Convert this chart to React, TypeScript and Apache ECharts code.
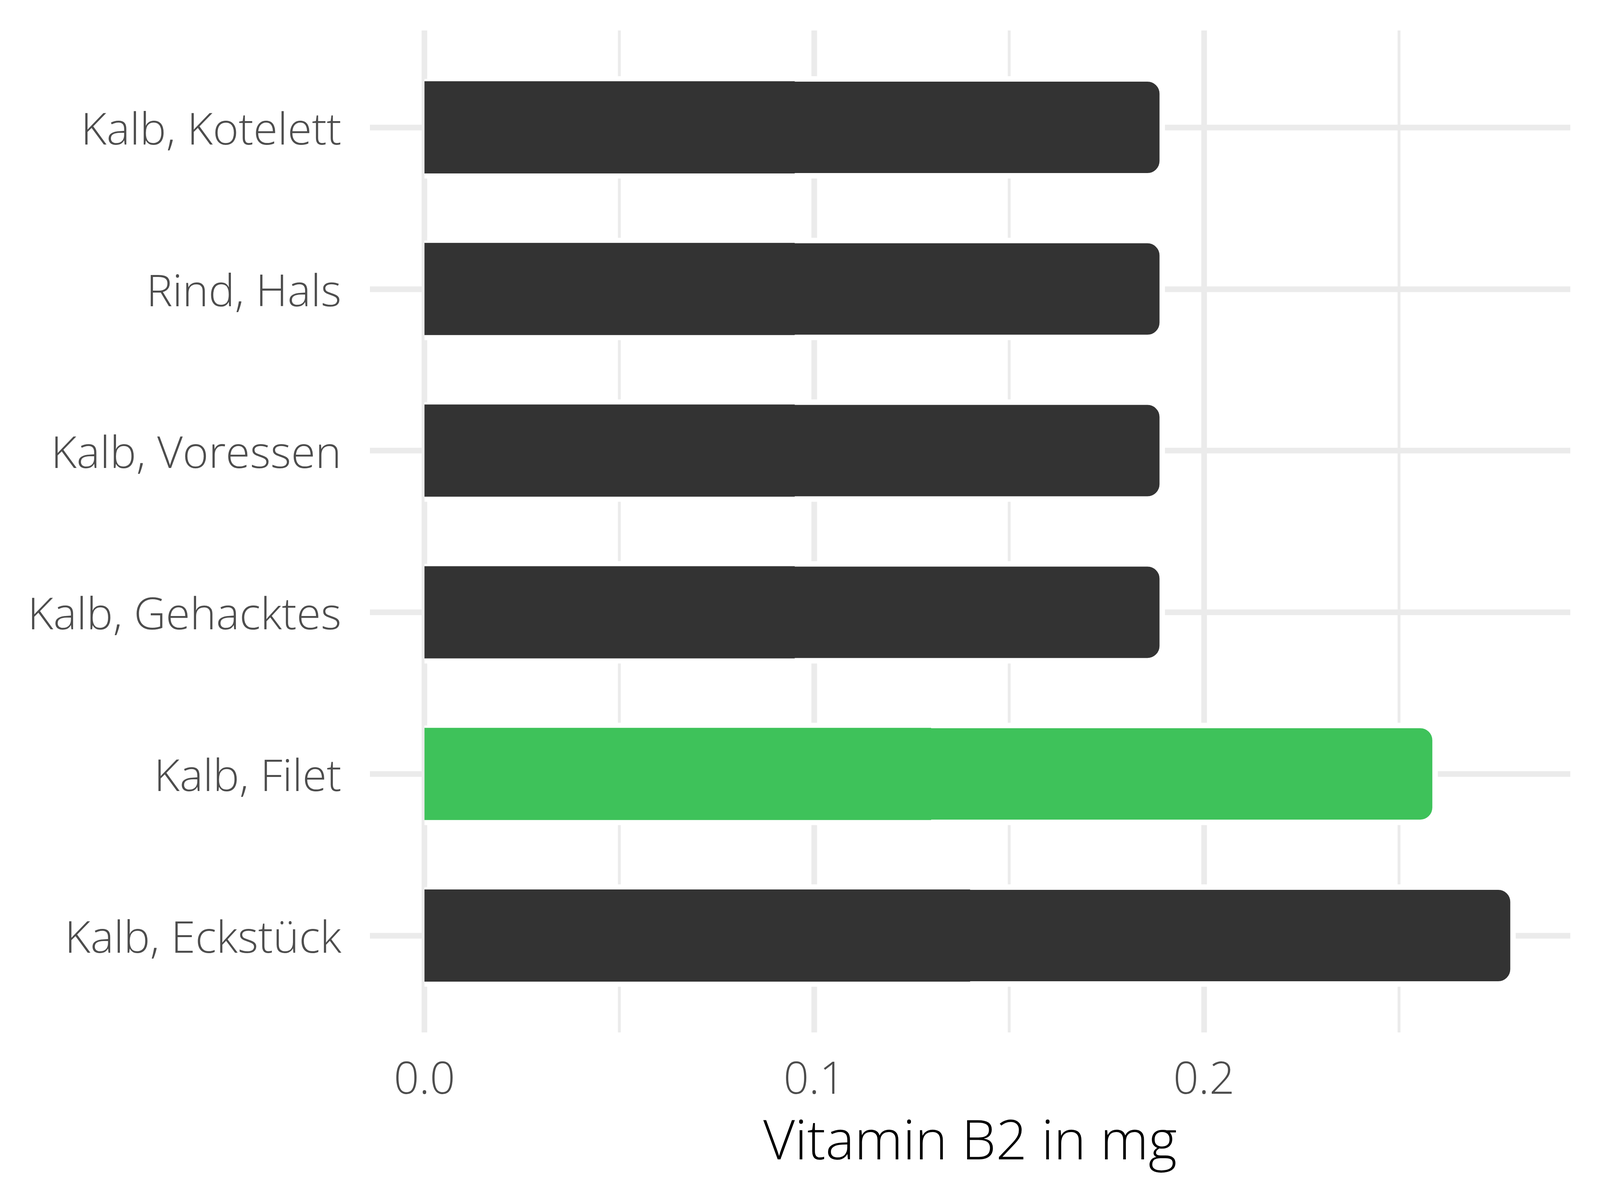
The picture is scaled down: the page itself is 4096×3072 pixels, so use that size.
import React, { useEffect, useRef } from "react";
import * as echarts from "echarts";

const categories = [
  "Kalb, Kotelett",
  "Rind, Hals",
  "Kalb, Voressen",
  "Kalb, Gehacktes",
  "Kalb, Filet",
  "Kalb, Eckstück",
];
const values = [0.19, 0.19, 0.19, 0.19, 0.26, 0.28];
const highlighted = "Kalb, Filet";
const xTickValues = [0, 0.1, 0.2];
const xMinorValues = [0.05, 0.15, 0.25];
const xMin = -0.014;
const xMax = 0.294;
const axisTitle = "Vitamin B2 in mg";

const DARK = "#333333";
const GREEN = "#3EC25A";
const GRID = "#EBEBEB";
const FONT = "'Open Sans', 'Noto Sans', sans-serif";

export default function App() {
  const ref = useRef<HTMLDivElement>(null);
  useEffect(() => {
    if (!ref.current) return;
    const chart = echarts.init(ref.current, null, { renderer: "svg" });
    const colorOf = (p: any) => (categories[p.dataIndex] === highlighted ? GREEN : DARK);
    const gL = 947;
    const gR = 76;
    const border = 14;
    const fillH = 234;
    chart.setOption({
      animation: false,
      backgroundColor: "#ffffff",
      grid: [
        { left: gL, right: gR, top: 78, bottom: 429 },
        { left: gL, right: gR, top: 326, bottom: 677 },
      ],
      xAxis: [
        {
          type: "value",
          gridIndex: 0,
          min: xMin,
          max: xMax,
          splitLine: { show: false },
          axisLine: { show: false },
          axisTick: { show: false },
          axisLabel: {
            customValues: xTickValues,
            formatter: (v: number) => v.toFixed(1),
            color: "#4D4D4D",
            fontFamily: FONT,
            fontWeight: 300,
            fontSize: 114,
            lineHeight: 114,
            margin: 55,
          },
          name: axisTitle,
          nameLocation: "middle",
          nameGap: 200,
          nameTextStyle: {
            color: "#000000",
            fontFamily: FONT,
            fontWeight: 300,
            fontSize: 140,
            lineHeight: 140,
          },
        },
        {
          type: "value",
          gridIndex: 1,
          min: xMin,
          max: xMax,
          show: false,
          splitLine: { show: false },
        },
      ],
      yAxis: [
        { type: "value", gridIndex: 0, min: 0, max: 1, show: false, splitLine: { show: false } },
        {
          type: "category",
          gridIndex: 1,
          data: categories,
          inverse: true,
          boundaryGap: false,
          axisLine: { show: false },
          axisTick: { show: false },
          splitLine: { show: true, lineStyle: { color: GRID, width: 14.5 } },
          axisLabel: {
            color: "#4D4D4D",
            fontFamily: FONT,
            fontWeight: 300,
            fontSize: 113,
            margin: 73,
          },
        },
        {
          type: "category",
          gridIndex: 1,
          data: categories,
          inverse: true,
          boundaryGap: false,
          show: false,
          splitLine: { show: false },
        },
      ],
      series: [
        {
          type: "line",
          xAxisIndex: 0,
          yAxisIndex: 0,
          data: [[xMin, 0]],
          showSymbol: false,
          silent: true,
          lineStyle: { opacity: 0 },
          z: 0,
          markLine: {
            z: 0,
            silent: true,
            symbol: ["none", "none"],
            label: { show: false },
            lineStyle: { color: GRID, type: "solid" },
            emphasis: { disabled: true },
            data: [
              ...xTickValues.map((v) => ({ xAxis: v, lineStyle: { width: 14.5, color: GRID, type: "solid" } })),
              ...xMinorValues.map((v) => ({ xAxis: v, lineStyle: { width: 7.3, color: GRID, type: "solid" } })),
            ],
          },
        },
        {
          type: "bar",
          xAxisIndex: 1,
          yAxisIndex: 1,
          data: values,
          barWidth: fillH + 2 * border,
          clip: false,
          z: 5,
          itemStyle: {
            color: colorOf,
            borderColor: "#ffffff",
            borderWidth: border,
            borderRadius: [0, 38, 38, 0],
          },
          emphasis: { disabled: true },
        },
        {
          type: "bar",
          xAxisIndex: 1,
          yAxisIndex: 2,
          data: values.map((v) => v / 2),
          barWidth: fillH + 2,
          clip: false,
          z: 6,
          itemStyle: { color: colorOf },
          emphasis: { disabled: true },
        },
      ],
    });
    return () => chart.dispose();
  }, []);
  return (
    <div
      ref={ref}
      style={{ position: "absolute", left: 0, top: 0, width: 4096, height: 3072 }}
    />
  );
}
